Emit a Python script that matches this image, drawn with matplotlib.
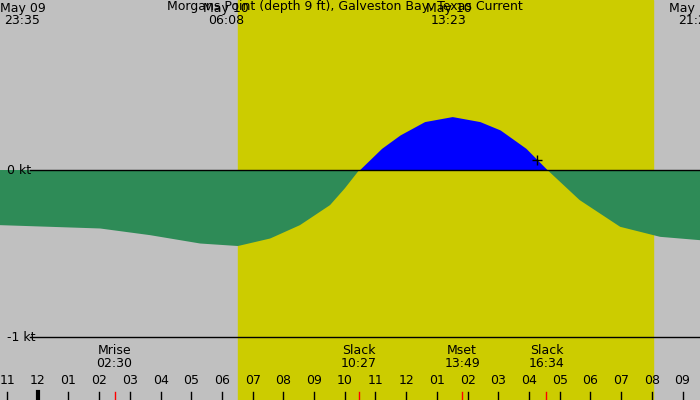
import numpy as np
import matplotlib.pyplot as plt

# hours since May 09 23:00
t_pts = [-0.23, 1.4, 3.03, 4.66, 6.29, 7.52, 8.57, 9.54, 10.52, 11.0, 11.47, 12.2, 12.8,
         13.6, 14.5, 15.4, 16.06, 16.9, 17.6, 18.65, 19.97, 21.27, 22.57]
v_pts = [-0.33, -0.34, -0.35, -0.39, -0.44, -0.455, -0.41, -0.33, -0.21, -0.11, 0.0,
         0.13, 0.21, 0.29, 0.32, 0.29, 0.24, 0.13, 0.0, -0.18, -0.34, -0.40, -0.42]
day_start, day_end = 7.52, 21.04
hour_labels = ["11", "12", "01", "02", "03", "04", "05", "06", "07", "08", "09", "10",
               "11", "12", "01", "02", "03", "04", "05", "06", "07", "08", "09"]
events = [("Mrise", "02:30", 3.5), ("Slack", "10:27", 11.45),
          ("Mset", "13:49", 14.82), ("Slack", "16:34", 17.57)]
top_labels = [("May 09", "23:35", 0.5), ("May 10", "06:08", 7.13),
              ("May 10", "13:23", 14.38), ("May 10", "21:2", 22.3)]
now_t, now_v = 17.25, 0.06

fig = plt.figure(figsize=(7, 4), dpi=100)
ax = fig.add_axes([0, 0, 1, 1])
x0, x1 = -0.23, 22.57
ax.set_xlim(x0, x1)
ax.set_ylim(-1.377, 1.018)
ax.axis("off")
ax.axvspan(x0, x1, color="#c0c0c0", zorder=0)
ax.axvspan(day_start, day_end, color="#cccc00", zorder=0)

t = np.linspace(x0, x1, 800)
v = np.interp(t, t_pts, v_pts)
ax.fill_between(t, 0, v, where=v <= 0, color="#2e8b57", lw=0, interpolate=True)
ax.fill_between(t, 0, v, where=v >= 0, color="#0000ff", lw=0, interpolate=True)

ax.plot([0.75, x1], [0, 0], color="black", lw=1)
ax.plot([0.75, x1], [-1, -1], color="black", lw=1)
fs = 9
ax.text(0.0, 0, "0 kt", fontsize=fs, va="center", ha="left")
ax.text(0.0, -1, "-1 kt", fontsize=fs, va="center", ha="left")
ax.plot(now_t, now_v, marker="+", color="black", ms=7, mew=1)

for i, lab in enumerate(hour_labels):
    ax.text(i, -1.26, lab, fontsize=fs, ha="center", va="center")
    ax.plot([i, i], [-1.33, -1.377], color="black", lw=3 if i == 1 else 1)
for name, tm, x in events:
    ax.text(x, -1.12, name + "\n" + tm, fontsize=fs, ha="center", va="center",
            linespacing=0.95)
    ax.plot([x, x], [-1.33, -1.377], color="red", lw=1)

ax.text(11.0, 1.018, "Morgans Point (depth 9 ft), Galveston Bay, Texas Current",
        fontsize=fs, ha="center", va="top")
for d, tm, x in top_labels:
    ax.text(x, 0.93, d + "\n" + tm, fontsize=fs, ha="center", va="center",
            linespacing=0.95)

fig.savefig("out.png", dpi=100)
